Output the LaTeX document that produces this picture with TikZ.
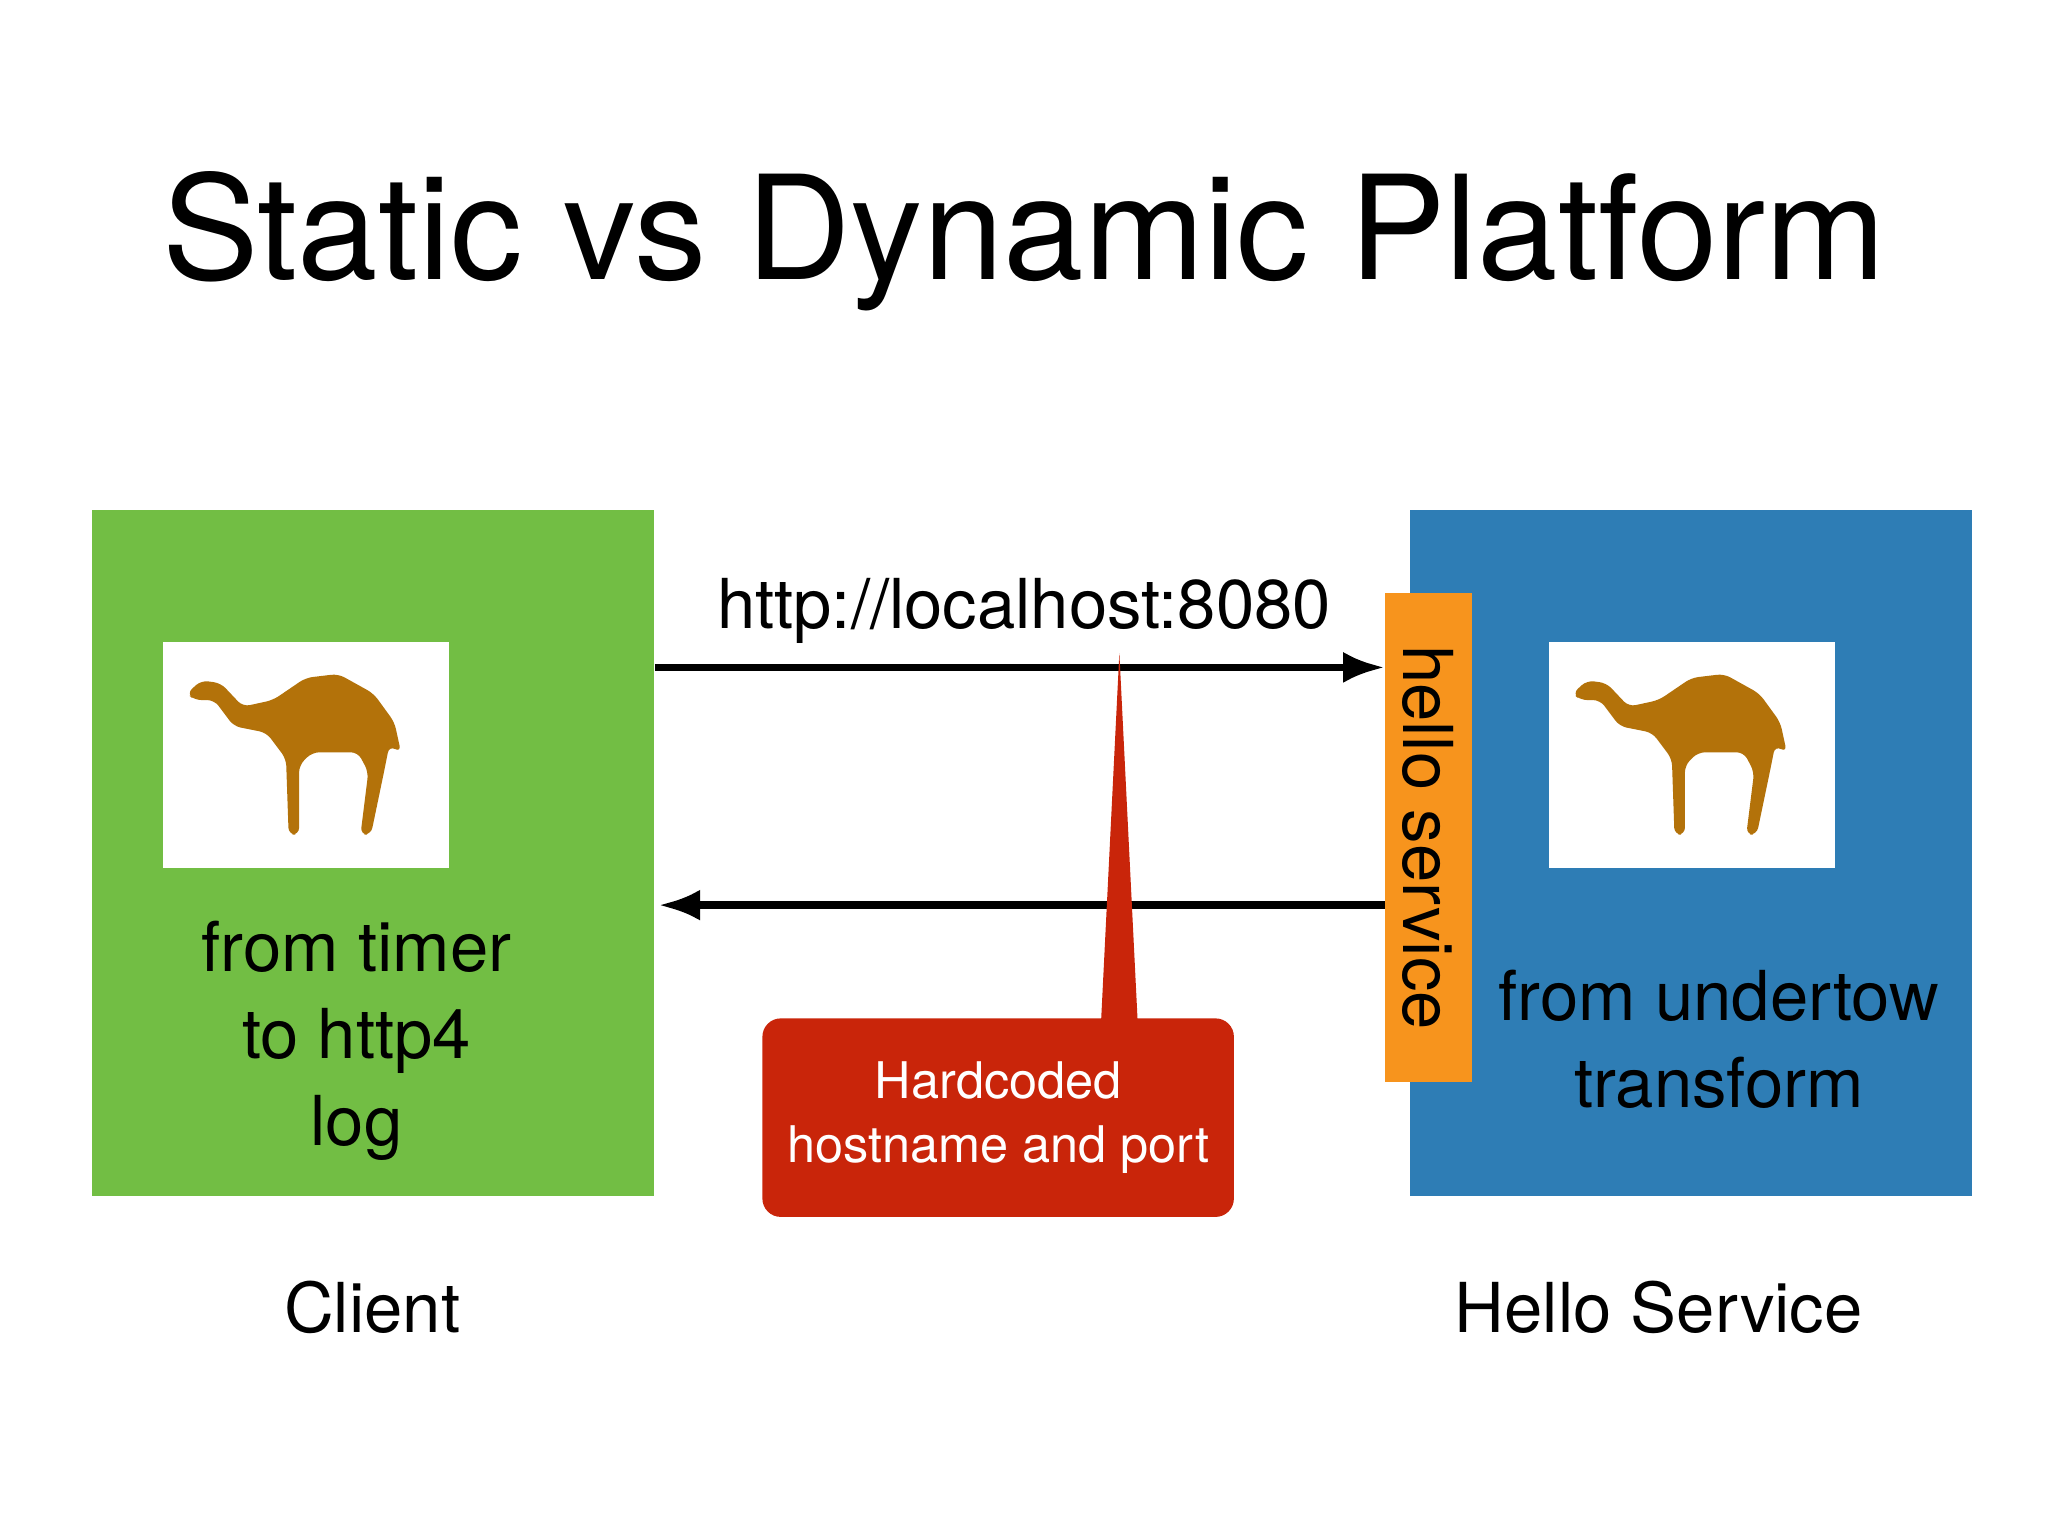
\documentclass[tikz,border=0pt]{standalone}
\usepackage{fontspec}
\setmainfont{TeX Gyre Heros}
\usetikzlibrary{arrows.meta,positioning,calc}
\definecolor{ClientGreen}{HTML}{72BE44}
\definecolor{ServiceBlue}{HTML}{2E7DB5}
\definecolor{StripOrange}{HTML}{F7941D}
\definecolor{NoteRed}{HTML}{C9250A}
\definecolor{CamelBrown}{HTML}{B3720A}
\tikzset{
    box/.style={anchor=north west,minimum width=4.30cm,minimum height=5.25cm,inner sep=0pt},
    pict/.style={anchor=north west,fill=white,minimum width=2.19cm,minimum height=1.73cm,inner sep=0pt},
    label/.style={font=\fontsize{15}{19}\selectfont,align=center},
    camel/.pic={
        \fill[CamelBrown,rounded corners=1.5pt] (0.19,0.40) -- (0.30,0.30) -- (0.45,0.32) -- (0.62,0.50)
            -- (0.85,0.45) -- (1.10,0.28) -- (1.35,0.25) -- (1.62,0.40) -- (1.78,0.62) -- (1.83,0.85)
            -- (1.74,0.80) -- (1.70,1.00) -- (1.60,1.48) -- (1.52,1.48) -- (1.58,1.00) -- (1.50,0.85)
            -- (1.15,0.85) -- (1.05,0.95) -- (1.05,1.48) -- (0.97,1.48) -- (0.95,0.90) -- (0.80,0.70)
            -- (0.55,0.65) -- (0.40,0.45) -- (0.25,0.45) -- cycle;
    }
}
\begin{document}
\begin{tikzpicture}[x=1cm,y=-1cm]
    \useasboundingbox (0,0) rectangle (15.68,11.76);
    \node[font=\fontsize{31.5}{36}\selectfont] (title) at (7.84,1.85) {Static vs Dynamic Platform};

    % client side
    \node[box,fill=ClientGreen] (client) at (0.70,3.90) {};
    \node[pict] (clientpic) at (1.24,4.91) {};
    \pic at (clientpic.north west) {camel};
    \node[label] (clienttxt) at (2.73,7.97) {from timer\\to http4\\log};
    \node[label] (clientname) at (2.85,10.01) {Client};

    % service side
    \node[box,fill=ServiceBlue] (service) at (10.79,3.90) {};
    \node[pict] (servicepic) at (11.85,4.91) {};
    \pic at (servicepic.north west) {camel};
    \node[label] (servicetxt) at (13.16,7.96) {from undertow\\transform};
    \node[label] (servicename) at (12.70,10.01) {Hello Service};
    \node[anchor=north west,fill=StripOrange,minimum width=0.66cm,minimum height=3.75cm,inner sep=0pt] (strip) at (10.60,4.53) {};
    \node[label,rotate=-90] at (strip.center) {hello service};

    % request and reply
    \coordinate (req) at (0,5.11);
    \coordinate (rep) at (0,6.93);
    \draw[-{Latex[length=9pt]},line width=1.6pt] (client.east |- req) -- (strip.west |- req);
    \node[font=\fontsize{15}{18}\selectfont] (url) at (7.84,4.68) {http://localhost:8080};
    \draw[-{Latex[length=9pt]},line width=1.6pt] (strip.west |- rep) -- ($(client.east |- rep)+(0.03,0)$);

    % callout
    \node[anchor=north west,fill=NoteRed,rounded corners=4pt,minimum width=3.61cm,minimum height=1.52cm,
          text=white,align=center,font=\fontsize{11}{14}\selectfont] (note) at (5.83,7.79)
          {Hardcoded\\hostname and port};
    \coordinate (tip) at (8.57,5.00);
    \fill[NoteRed] (8.43,7.82) -- (tip) -- (8.71,7.82) -- cycle;
\end{tikzpicture}
\end{document}
